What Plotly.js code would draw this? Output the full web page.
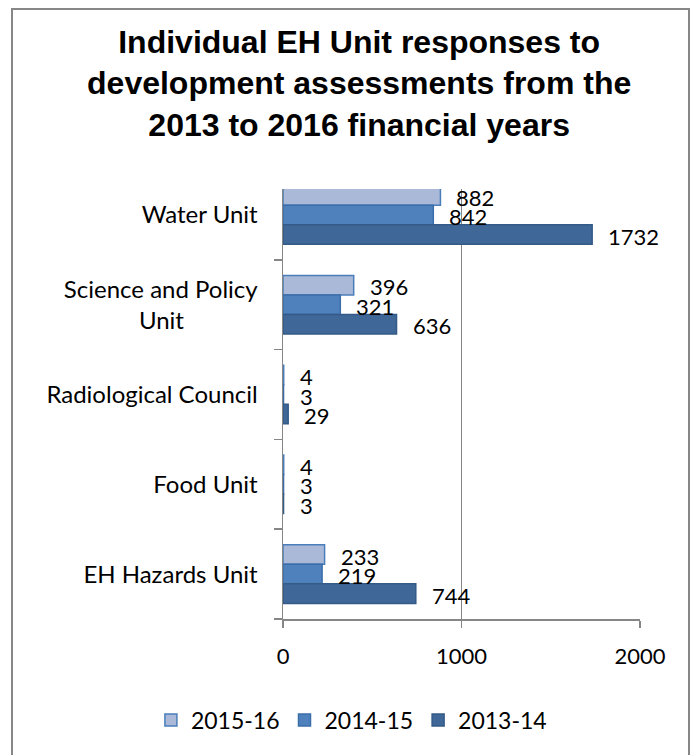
<!DOCTYPE html>
<html>
<head>
<meta charset="utf-8">
<script src="https://cdn.plot.ly/plotly-3.0.1.min.js"></script>
<style>
  html, body { margin: 0; padding: 0; background: #ffffff; }
  #chart { width: 696px; height: 755px; position: absolute; left: 0; top: 0; }
  #frame { position: absolute; left: 11px; top: 8px; width: 679px; height: 770px;
           border: 2px solid #878787; box-sizing: border-box; pointer-events: none; }
</style>
</head>
<body>
<div id="chart"></div>
<div id="frame"></div>
<script>
// ---- data ----
const categories = ["Water Unit", "Science and Policy Unit", "Radiological Council", "Food Unit", "EH Hazards Unit"];
const tickLabels = ["Water Unit", "Science and Policy<br>Unit", "Radiological Council", "Food Unit", "EH Hazards Unit"];
const seriesNames = ["2015-16", "2014-15", "2013-14"];
const values2015_16 = [882, 396, 4, 4, 233];
const values2014_15 = [842, 321, 3, 3, 219];
const values2013_14 = [1732, 636, 29, 3, 744];
const xTickValues = [0, 1000, 2000];

// ---- styles ----
const fills = ["#aab9d7", "#4f81bd", "#3f6797"];
const outlines = ["#4a7ebb", "#3b6ea9", "#345a87"];
const labelFont = { family: "Lato, 'Open Sans', sans-serif", size: 22, color: "#000000" };
const seriesValues = [values2015_16, values2014_15, values2013_14];

// pad the short second line of a wrapped label so it sits centred under the first
const NBSP = "\u00A0";
const shownTicks = tickLabels.map(t => t.endsWith("<br>Unit") ? t + NBSP.repeat(12) : t);

const traces = seriesValues.map((vals, i) => ({
  type: "bar",
  orientation: "h",
  name: seriesNames[i],
  y: categories,
  x: vals,
  marker: { color: fills[i], line: { color: outlines[i], width: 1.5 } },
  hoverinfo: "x+name"
}));

// value labels beside each bar
const yShifts = [18, -1.5, -21];
const annotations = [];
seriesValues.forEach((vals, i) => {
  vals.forEach((v, j) => {
    annotations.push({
      x: v, y: categories[j], xref: "x", yref: "y",
      text: String(v), showarrow: false,
      xanchor: "left", yanchor: "middle",
      xshift: 14, yshift: yShifts[i],
      font: labelFont
    });
  });
});

const layout = {
  width: 696, height: 755,
  paper_bgcolor: "#ffffff", plot_bgcolor: "#ffffff",
  margin: { l: 282.5, r: 55.5, t: 189, b: 136, pad: 0 },
  title: {
    text: "Individual EH Unit responses to<br>development assessments from the<br>2013 to 2016 financial years",
    font: { family: "'Liberation Sans', Arial, sans-serif", size: 32, color: "#000000", weight: "bold" },
    x: 0.516, xanchor: "center", xref: "container",
    y: 0.93, yanchor: "top", yref: "container"
  },
  barmode: "group",
  bargap: 0.348,
  bargroupgap: 0,
  showlegend: true,
  legend: {
    orientation: "h", xref: "paper", yref: "paper",
    x: -0.37, xanchor: "left", y: -0.235, yanchor: "middle",
    font: { family: "Lato, 'Open Sans', sans-serif", size: 23, color: "#000000" },
    traceorder: "normal", itemwidth: 30
  },
  xaxis: {
    range: [0, 2000], tickvals: xTickValues, ticktext: xTickValues.map(String),
    showgrid: true, gridcolor: "#868686", gridwidth: 1.3,
    zeroline: false, showline: true, linecolor: "#868686", linewidth: 1.5,
    ticks: "outside", ticklen: 7, tickcolor: "#868686", tickwidth: 1.5,
    ticklabelstandoff: 10,
    tickfont: labelFont, fixedrange: true
  },
  yaxis: {
    type: "category", categoryorder: "array", categoryarray: categories,
    range: [4.5, -0.29],
    tickvals: categories, ticktext: shownTicks,
    tickson: "boundaries",
    showgrid: false, zeroline: false,
    showline: true, linecolor: "#868686", linewidth: 1.5,
    ticks: "outside", ticklen: 8, tickcolor: "#868686", tickwidth: 1.5,
    ticklabelstandoff: 19,
    tickfont: { family: "Lato, 'Open Sans', sans-serif", size: 24, color: "#000000" },
    fixedrange: true
  },
  annotations: annotations
};

Plotly.newPlot("chart", traces, layout, { displayModeBar: false, staticPlot: true });
</script>
</body>
</html>
